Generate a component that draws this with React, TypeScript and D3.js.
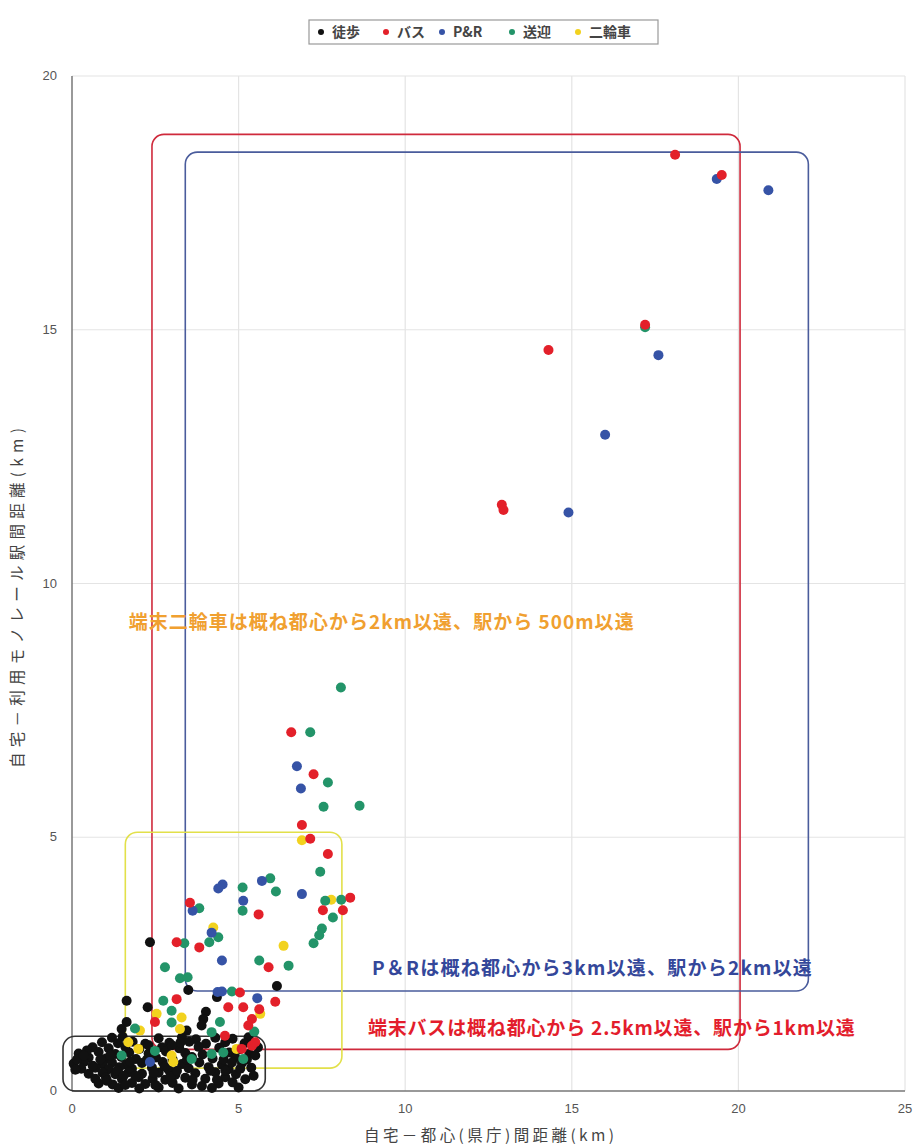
import * as d3 from 'd3';
import React from 'react';

// series: [x = 自宅-都心 km, y = 自宅-駅 km]
const walk: [number, number][] = [
  [1.64, 1.78], [2.27, 1.65], [2.34, 2.93], [3.49, 1.99], [6.15, 2.07], [4.35, 1.85],
  [4.02, 1.56], [3.94, 1.42], [3.89, 1.29], [1.64, 1.36], [1.49, 1.22], [3.44, 1.19],
  [1.2, 1.05], [1.52, 1.07], [2.6, 1.04], [3.3, 1.06], [3.72, 1.02], [4.3, 1.05], [4.82, 1.03], [5.3, 1.06],
  [0.9, 0.96], [1.38, 0.94], [1.82, 0.97], [2.2, 0.93], [2.92, 0.95], [3.52, 0.97], [4.02, 0.93], [4.6, 0.96], [5.18, 0.94],
  [0.62, 0.86], [1.1, 0.84], [1.6, 0.87], [2.02, 0.83], [2.7, 0.86], [3.22, 0.84], [3.8, 0.87], [4.42, 0.85], [5.02, 0.82], [5.58, 0.86],
  [0.2, 0.74], [0.8, 0.77], [1.3, 0.73], [1.72, 0.76], [2.3, 0.74], [2.82, 0.78], [3.4, 0.75], [3.92, 0.72], [4.72, 0.76], [5.32, 0.73],
  [0.5, 0.66], [1.02, 0.64], [1.48, 0.67], [1.92, 0.63], [2.52, 0.66], [3.02, 0.62], [3.6, 0.67], [4.22, 0.64], [4.9, 0.66],
  [0.05, 0.54], [0.36, 0.57], [0.92, 0.53], [1.2, 0.56], [1.62, 0.52], [2.1, 0.55], [2.72, 0.57], [3.3, 0.53], [3.82, 0.56], [4.5, 0.52], [5.1, 0.55],
  [0.28, 0.44], [0.7, 0.46], [1.1, 0.43], [1.42, 0.47], [1.8, 0.44], [2.4, 0.46], [2.9, 0.42], [3.5, 0.45], [4.1, 0.47], [4.7, 0.43], [5.38, 0.46],
  [0.5, 0.34], [0.92, 0.36], [1.3, 0.33], [1.7, 0.37], [2.1, 0.34], [2.6, 0.36], [3.1, 0.32], [3.7, 0.35], [4.3, 0.37], [4.92, 0.33],
  [0.7, 0.24], [1.02, 0.26], [1.5, 0.23], [2.0, 0.27], [2.42, 0.24], [2.8, 0.22], [3.4, 0.26], [4.0, 0.24], [4.6, 0.27], [5.2, 0.23],
  [0.8, 0.15], [1.22, 0.13], [1.8, 0.16], [2.2, 0.14], [3.02, 0.16], [3.6, 0.13], [4.4, 0.15], [4.82, 0.17],
  [1.4, 0.06], [2.02, 0.05], [2.6, 0.07], [3.2, 0.05], [4.2, 0.06], [5.0, 0.07],
  [0.15, 0.62], [0.45, 0.8], [1.05, 0.2], [1.9, 0.3], [2.5, 0.12], [3.25, 0.95], [3.9, 0.1], [4.55, 0.62], [5.45, 0.3], [2.95, 0.28],
  [0.35, 0.7], [0.62, 0.5], [0.85, 0.62], [1.15, 0.7], [1.35, 0.4], [1.55, 0.3], [1.75, 0.58], [2.25, 0.62], [2.45, 0.36],
  [2.78, 0.48], [3.15, 0.4], [3.45, 0.62], [3.62, 0.22], [4.15, 0.4], [4.35, 0.22], [4.6, 0.4], [5.05, 0.44], [5.25, 0.62],
  [0.1, 0.42], [1.6, 0.12], [2.3, 0.9], [3.0, 0.9], [4.8, 0.56], [5.5, 0.7],
];

const bus: [number, number][] = [
  [18.1, 18.45], [19.5, 18.05], [17.2, 15.1], [14.3, 14.6], [12.9, 11.55], [12.95, 11.45],
  [6.58, 7.07], [7.25, 6.24], [6.9, 5.24], [7.15, 4.97], [7.68, 4.67],
  [3.54, 3.71], [5.6, 3.48], [8.35, 3.81], [7.53, 3.56], [8.13, 3.56], [3.14, 2.93], [3.82, 2.83],
  [5.9, 2.44], [5.04, 1.94], [6.1, 1.76], [3.14, 1.81], [4.69, 1.65], [5.14, 1.65], [5.62, 1.61],
  [5.4, 1.42], [2.49, 1.36], [5.29, 1.29], [4.59, 1.09], [5.09, 0.83], [5.4, 0.89], [5.5, 0.96],
];

const pr: [number, number][] = [
  [19.35, 17.97], [20.9, 17.75], [17.6, 14.5], [16.0, 12.93], [14.9, 11.4],
  [6.75, 6.4], [6.87, 5.96], [4.52, 4.07], [4.39, 3.99], [5.7, 4.14], [6.9, 3.88],
  [3.62, 3.55], [5.14, 3.75], [4.19, 3.12], [4.5, 2.57], [4.37, 1.95], [4.5, 1.96], [5.56, 1.83], [2.34, 0.57],
];

const kiss: [number, number][] = [
  [17.2, 15.05], [8.07, 7.95], [7.15, 7.07], [7.68, 6.08], [7.55, 5.6], [8.63, 5.62], [7.45, 4.32],
  [5.12, 4.01], [5.95, 4.19], [6.12, 3.93], [3.82, 3.6], [5.12, 3.55], [7.6, 3.75], [8.08, 3.77],
  [7.83, 3.42], [7.5, 3.2], [7.42, 3.07], [7.25, 2.91], [4.39, 3.03], [4.12, 2.93], [3.37, 2.91],
  [5.62, 2.57], [6.5, 2.47], [2.79, 2.44], [3.24, 2.22], [3.47, 2.24], [4.8, 1.96], [2.74, 1.78],
  [2.99, 1.58], [2.99, 1.35], [4.44, 1.36], [1.89, 1.23], [4.19, 1.16], [5.47, 1.17],
  [1.49, 0.7], [2.49, 0.79], [3.59, 0.63], [4.19, 0.73], [4.54, 0.76], [5.14, 0.63],
];

const bike: [number, number][] = [
  [6.9, 4.94], [7.78, 3.77], [6.35, 2.86], [4.24, 3.22], [5.65, 1.52], [2.54, 1.52], [3.29, 1.45],
  [2.04, 1.19], [3.24, 1.22], [1.69, 0.96], [1.99, 0.83], [2.99, 0.7], [3.04, 0.57], [4.94, 0.83],
];

const seriesNames = ['徒歩', 'バス', 'P&R', '送迎', '二輪車'];
const seriesColors = ['#111111', '#e3202a', '#3653a6', '#239469', '#f2d21e'];
const seriesData = [walk, bike, kiss, pr, bus];
const seriesDataColors = ['#111111', '#f2d21e', '#239469', '#3653a6', '#e3202a'];

// [x0, x1, y0, y1] in km
const zones = [
  { box: [2.4, 20.05, 0.82, 18.85], color: '#cf2a3c' },
  { box: [3.4, 22.1, 1.97, 18.5], color: '#4a5c9c' },
  { box: [1.6, 8.1, 0.45, 5.1], color: '#e2e04a' },
  { box: [-0.27, 5.8, 0.0, 1.08], color: '#333333' },
];

const notes = [
  { text: '端末二輪車は概ね都心から2km以遠、駅から 500m以遠', x: 1.7, y: 9.2, len: 505, color: '#f0a030' },
  { text: 'P＆Rは概ね都心から3km以遠、駅から2km以遠', x: 9.0, y: 2.38, len: 440, color: '#34479a' },
  { text: '端末バスは概ね都心から 2.5km以遠、駅から1km以遠', x: 8.88, y: 1.2, len: 487, color: '#e31d2c' },
];

const xTicks = [0, 5, 10, 15, 20, 25];
const yTicks = [0, 5, 10, 15, 20];

const W = 916;
const H = 1146;
const font = '"Noto Sans CJK JP", "Noto Sans", sans-serif';

export default function App() {
  const x = d3.scaleLinear().domain([0, 25]).range([72, 905]);
  const y = d3.scaleLinear().domain([0, 20]).range([1091, 76]);

  const legendDot = [321, 386, 442, 512, 578];

  return (
    <svg width={W} height={H} style={{ position: 'absolute', left: 0, top: 0, background: '#fff' }}>
      {/* grid */}
      {xTicks.slice(1).map(t => (
        <line key={'gx' + t} x1={x(t)} x2={x(t)} y1={y(20)} y2={y(0)} stroke="#e4e4e4" strokeWidth={1.2} />
      ))}
      {yTicks.slice(1).map(t => (
        <line key={'gy' + t} x1={x(0)} x2={x(25)} y1={y(t)} y2={y(t)} stroke="#e4e4e4" strokeWidth={1.2} />
      ))}
      <line x1={x(0)} x2={x(0)} y1={y(0)} y2={y(20)} stroke="#777" strokeWidth={1.5} />
      <line x1={x(0)} x2={x(25)} y1={y(0)} y2={y(0)} stroke="#777" strokeWidth={1.5} />

      {/* zone boxes */}
      {zones.map((z, i) => (
        <rect
          key={'z' + i}
          x={x(z.box[0])}
          y={y(z.box[3])}
          width={x(z.box[1]) - x(z.box[0])}
          height={y(z.box[2]) - y(z.box[3])}
          rx={12}
          fill="none"
          stroke={z.color}
          strokeWidth={1.6}
        />
      ))}

      {/* points */}
      {seriesData.map((s, si) =>
        s.map((d, i) => (
          <circle key={si + '-' + i} cx={x(d[0])} cy={y(d[1])} r={5} fill={seriesDataColors[si]} />
        ))
      )}

      {/* notes */}
      {notes.map((n, i) => (
        <text key={'n' + i} x={x(n.x)} y={y(n.y)} fill={n.color} fontFamily={font} fontWeight={700} fontSize={19}
          dominantBaseline="middle" textLength={n.len} lengthAdjust="spacing">
          {n.text}
        </text>
      ))}

      {/* ticks */}
      {xTicks.map(t => (
        <text key={'tx' + t} x={x(t)} y={1113} textAnchor="middle" fontSize={13} fill="#555" fontFamily="'Liberation Sans', sans-serif">{t}</text>
      ))}
      {yTicks.map(t => (
        <text key={'ty' + t} x={57} y={y(t) + 4} textAnchor="end" fontSize={13} fill="#555" fontFamily="'Liberation Sans', sans-serif">{t}</text>
      ))}

      {/* axis titles */}
      <text x={489} y={1141} textAnchor="middle" fontSize={15.5} fill="#444" fontFamily={font} textLength={250} lengthAdjust="spacing">自宅－都心(県庁)間距離(km)</text>
      <text transform="translate(23,598) rotate(-90)" textAnchor="middle" fontSize={15.5} fill="#444" fontFamily={font} textLength={340} lengthAdjust="spacing">自宅－利用モノレール駅間距離(km)</text>

      {/* legend */}
      <rect x={309} y={20} width={349} height={24} fill="#fff" stroke="#999" strokeWidth={1.2} />
      {seriesNames.map((n, i) => (
        <g key={'lg' + i} transform={`translate(${legendDot[i]},32)`}>
          <circle cx={0} cy={0} r={3} fill={seriesColors[i]} />
          <text x={11} y={5} fontSize={14} fill="#444" fontFamily={font} fontWeight={700}>{n}</text>
        </g>
      ))}
    </svg>
  );
}
